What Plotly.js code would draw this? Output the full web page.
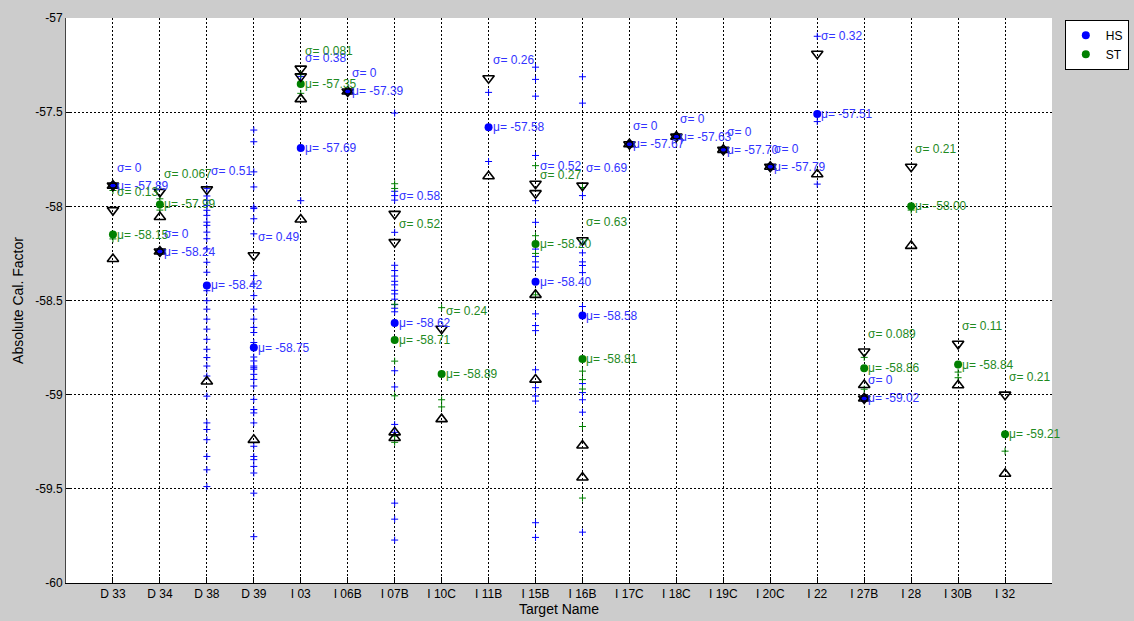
<!DOCTYPE html>
<html>
<head>
<meta charset="utf-8">
<script src="https://cdn.plot.ly/plotly-3.0.1.min.js"></script>
<style>html,body{margin:0;padding:0;background:#cccccc;}#chart{width:1134px;height:621px;}</style>
</head>
<body>
<div id="chart"></div>
<script>
// ---- data ----
const targets = ['D 33','D 34','D 38','D 39','I 03','I 06B','I 07B','I 10C','I 11B','I 15B',
                 'I 16B','I 17C','I 18C','I 19C','I 20C','I 22','I 27B','I 28','I 30B','I 32'];
const hsMean  = [-57.89,-58.24,-58.42,-58.75,-57.69,-57.39,-58.62,null,-57.58,-58.40,
                 -58.58,-57.67,-57.63,-57.70,-57.79,-57.51,-59.02,null,null,null];
const hsSigma = [0,0,0.51,0.49,0.38,0,0.58,null,0.26,0.52,
                 0.69,0,0,0,0,0.32,0,null,null,null];
const stMean  = [-58.15,-57.99,null,null,-57.35,null,-58.71,-58.89,null,-58.20,
                 -58.81,null,null,null,null,null,-58.86,-58.00,-58.84,-59.21];
const stSigma = [0.13,0.067,null,null,0.081,null,0.52,0.24,null,0.27,
                 0.63,null,null,null,null,null,0.089,0.21,0.11,0.21];
const hsPoints = [
  [-57.89],
  [-58.24],
  [-57.906,-57.945,-57.968,-57.995,-58.021,-58.048,-58.084,-58.101,-58.137,-58.172,-58.226,-58.297,-58.35,
   -58.448,-58.501,-58.546,-58.599,-58.652,-58.706,-58.759,-58.803,-58.848,-58.901,-59.008,-59.15,-59.185,
   -59.239,-59.328,-59.399,-59.488],
  [-57.595,-57.657,-57.817,-57.897,-58.004,-58.012,-58.066,-58.146,-58.368,-58.412,-58.474,-58.546,-58.599,
   -58.643,-58.67,-58.723,-58.80,-58.821,-58.848,-58.857,-58.865,-58.892,-58.919,-58.954,-59.025,-59.079,
   -59.097,-59.15,-59.274,-59.328,-59.345,-59.381,-59.416,-59.523,-59.754],
  [-57.31,-57.97],
  [-57.39],
  [-57.505,-57.92,-57.943,-57.967,-58.138,-58.313,-58.341,-58.37,-58.398,-58.417,-58.446,-58.465,-58.493,
   -58.522,-58.541,-58.56,-58.873,-58.959,-59.158,-59.20,-59.576,-59.661,-59.772],
  [],
  [-57.395,-57.762],
  [-57.261,-57.326,-57.415,-57.73,-57.97,-58.085,-58.227,-58.266,-58.295,-58.323,-58.571,-58.633,-58.66,
   -58.868,-58.963,-59.007,-59.034,-59.68,-59.758],
  [-57.312,-57.452,-57.943,-58.2,-58.247,-58.295,-58.314,-58.352,-58.532,-58.941,-58.989,-59.027,-59.093,-59.73],
  [-57.67],[-57.63],[-57.70],[-57.79],
  [-57.097,-57.55,-57.882],
  [-59.02],
  [],[],[]
];
const stPoints = [
  [-57.916,-58.173],
  [-57.96,-58.02],
  [],[],
  [-57.30,-57.40],
  [],
  [-57.88,-57.905,-58.52,-58.822,-59.006,-59.22,-59.253],
  [-58.538,-59.027,-59.065],
  [],
  [-57.784,-58.156,-58.25,-58.47],
  [-57.90,-58.875,-58.92,-58.97,-59.169,-59.549],
  [],[],[],[],[],
  [-58.802,-58.971],
  [-58.02],
  [-58.88,-58.91],
  [-59.30]
];
const yTickVals = [-60,-59.5,-59,-58.5,-58,-57.5,-57];
const yTickText = ['-60','-59.5','-59','-58.5','-58','-57.5','-57'];

// ---- build traces ----
const BLUE = '#0000ff', GREEN = '#008000';
const TXT_BLUE = '#3333ff', TXT_GREEN = '#1f8a1f';
const xIdx = targets.map((t,i)=>i+1);

function flatten(pts){
  const xs=[], ys=[];
  pts.forEach((arr,i)=>arr.forEach(v=>{xs.push(i+1); ys.push(v);}));
  return {xs, ys};
}
const hp = flatten(hsPoints), sp = flatten(stPoints);

function sel(means){ const xs=[],ys=[]; means.forEach((m,i)=>{ if(m!==null){xs.push(i+1);ys.push(m);} }); return {xs,ys}; }
const hm = sel(hsMean), sm = sel(stMean);

const upX=[],upY=[],dnX=[],dnY=[];
[[hsMean,hsSigma],[stMean,stSigma]].forEach(([m,s])=>{
  m.forEach((v,i)=>{ if(v!==null){ upX.push(i+1); upY.push(v+s[i]); dnX.push(i+1); dnY.push(v-s[i]); } });
});

const traces = [
  {x:hp.xs, y:hp.ys, type:'scatter', mode:'markers', showlegend:false, hoverinfo:'skip',
   marker:{symbol:'cross-thin-open', size:5, color:BLUE, line:{color:BLUE, width:1}}},
  {x:sp.xs, y:sp.ys, type:'scatter', mode:'markers', showlegend:false, hoverinfo:'skip',
   marker:{symbol:'cross-thin-open', size:5, color:GREEN, line:{color:GREEN, width:1}}},
  {x:hm.xs, y:hm.ys, type:'scatter', mode:'markers', name:'HS',
   marker:{symbol:'circle', size:8, color:BLUE}},
  {x:sm.xs, y:sm.ys, type:'scatter', mode:'markers', name:'ST',
   marker:{symbol:'circle', size:8, color:GREEN}},
  {x:upX, y:upY, type:'scatter', mode:'markers', showlegend:false,
   marker:{symbol:'triangle-down-open', size:10, color:'black', line:{color:'black', width:1.6}}},
  {x:dnX, y:dnY, type:'scatter', mode:'markers', showlegend:false,
   marker:{symbol:'triangle-up-open', size:10, color:'black', line:{color:'black', width:1.6}}}
];

const annotations = [];
function addLabels(means, sigmas, color){
  means.forEach((m,i)=>{
    if(m===null) return;
    annotations.push({x:i+1, y:m, text:'μ= '+m.toFixed(2), showarrow:false, xanchor:'left', yanchor:'middle',
      xshift:2, font:{color:color, size:12}});
    annotations.push({x:i+1, y:m+sigmas[i], text:'σ= '+String(sigmas[i]), showarrow:false, xanchor:'left', yanchor:'middle',
      xshift:2, yshift:18, font:{color:color, size:12}});
  });
}
addLabels(hsMean, hsSigma, TXT_BLUE);
addLabels(stMean, stSigma, TXT_GREEN);

const layout = {
  width:1134, height:621,
  paper_bgcolor:'#cccccc', plot_bgcolor:'#ffffff',
  margin:{l:66, r:82, t:18, b:38, autoexpand:false},
  font:{family:'Liberation Sans, Arial, sans-serif', size:12, color:'black'},
  xaxis:{range:[0,21], tickvals:xIdx, ticktext:targets, showgrid:true, gridcolor:'black', griddash:'2px,2px', gridwidth:1,
    zeroline:false, showline:true, linecolor:'black', linewidth:1, ticks:'inside', ticklen:6, tickcolor:'black',
    tickfont:{size:12}, title:{text:'Target Name', font:{size:14}, standoff:3}},
  yaxis:{range:[-60,-57], tickvals:yTickVals, ticktext:yTickText, showgrid:true, gridcolor:'black', griddash:'2px,2px', gridwidth:1,
    zeroline:false, showline:true, linecolor:'#444444', linewidth:1, ticks:'inside', ticklen:6, tickcolor:'black',
    tickfont:{size:12}, title:{text:'Absolute Cal. Factor', font:{size:14}, standoff:8}},
  legend:{x:1.013, y:0.997, xanchor:'left', yanchor:'top', bgcolor:'#ffffff', bordercolor:'black', borderwidth:1,
    font:{size:12}, tracegroupgap:0},
  showlegend:true,
  annotations:annotations
};

Plotly.newPlot('chart', traces, layout, {staticPlot:true, displayModeBar:false});
</script>
</body>
</html>
